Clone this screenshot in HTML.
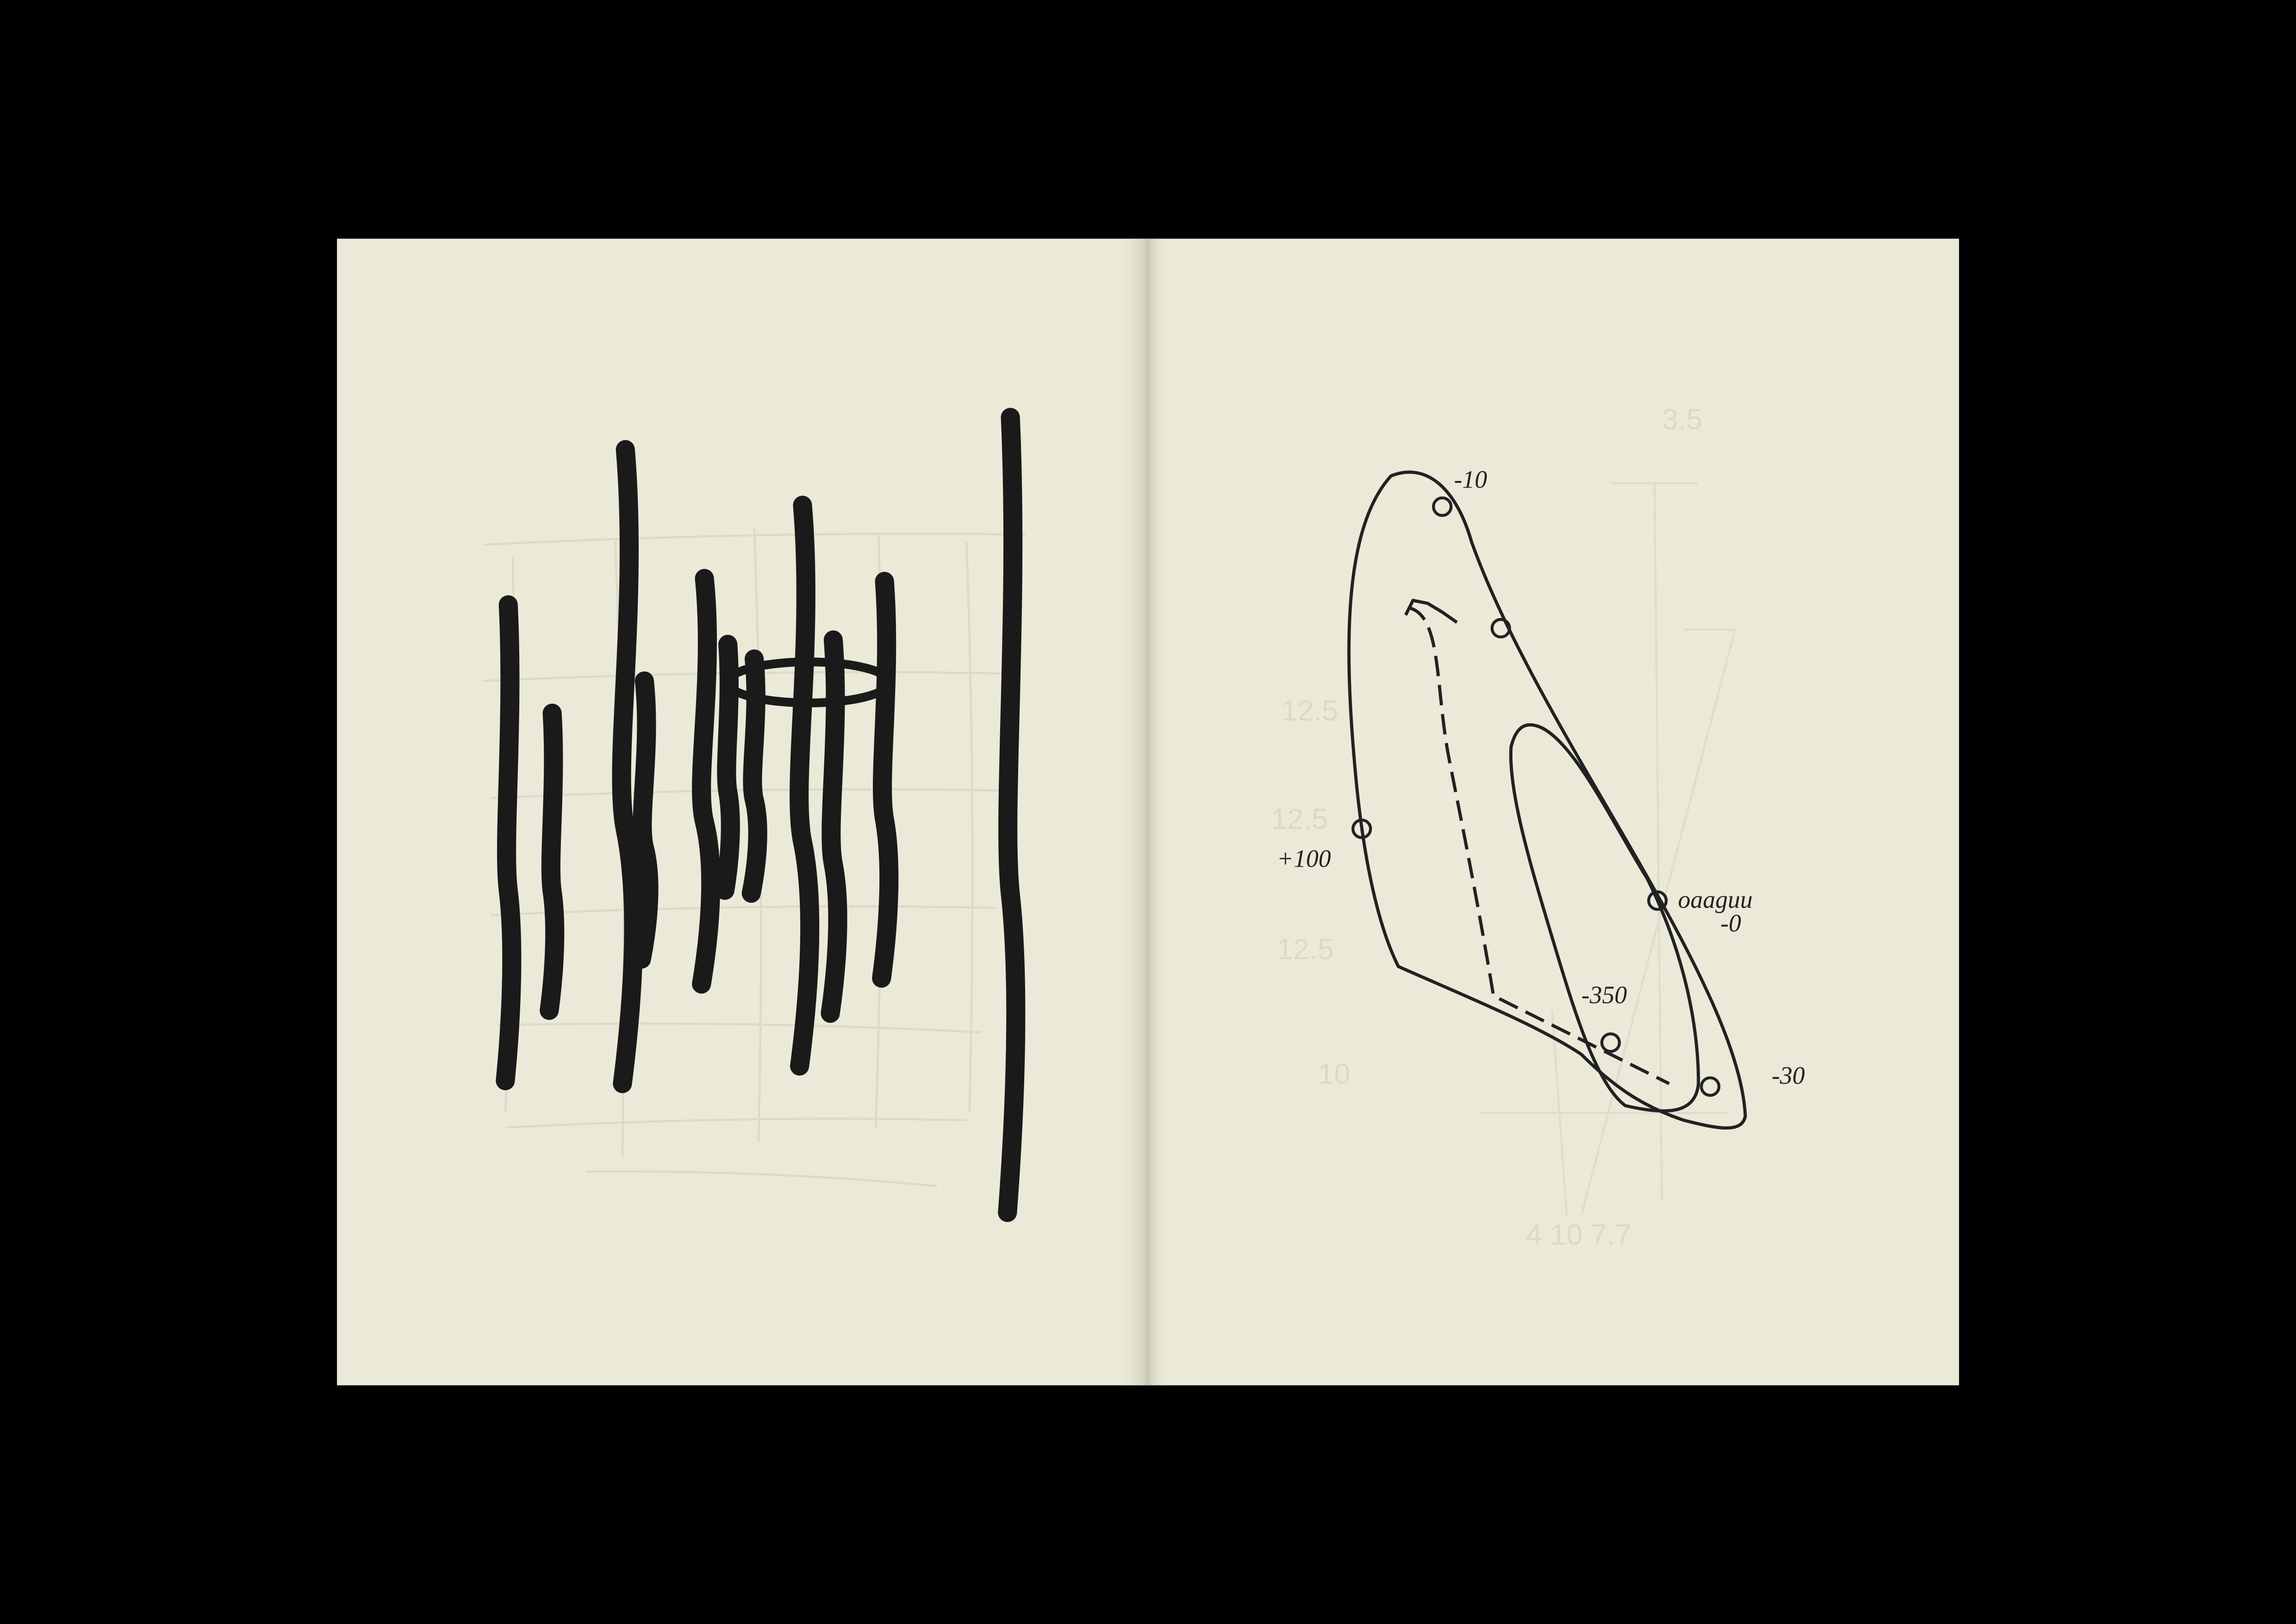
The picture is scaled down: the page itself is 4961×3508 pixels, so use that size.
<!DOCTYPE html>
<html><head><meta charset="utf-8"><style>
html,body{margin:0;padding:0;background:#000;}
svg{display:block}
</style></head><body>
<svg id="s" width="4961" height="3508" viewBox="0 0 1568 1109" xmlns="http://www.w3.org/2000/svg">
<defs>
<linearGradient id="spL" x1="0" x2="1"><stop offset="0" stop-color="#ebead8" stop-opacity="0"/><stop offset="1" stop-color="#cfcebc"/></linearGradient>
<linearGradient id="spR" x1="0" x2="1"><stop offset="0" stop-color="#c4c3b1"/><stop offset="1" stop-color="#ebead8" stop-opacity="0"/></linearGradient>
</defs>
<rect width="1568" height="1109" fill="#000"/>
<rect x="230" y="163" width="553" height="783" fill="#ebead8"/>
<rect x="783" y="163" width="555" height="783" fill="#ebead8"/>
<rect x="763" y="163" width="20" height="783" fill="url(#spL)"/>
<rect x="783" y="163" width="14" height="783" fill="url(#spR)"/>
<g id="faintL" fill="none" stroke="#dcdbc9" stroke-width="1.5"></g>
<g id="strokes" fill="none" stroke="#1a1a1a" stroke-width="13" stroke-linecap="round" stroke-linejoin="round"></g>
<ellipse cx="552" cy="466" rx="55" ry="14" fill="none" stroke="#1a1a1a" stroke-width="6"/>
<g id="faintR" fill="none" stroke="#dfdecc" stroke-width="1.5"></g>
<g font-family="Liberation Sans, sans-serif" font-size="20" fill="#dbdac8">
<text x="1135" y="293">3.5</text>
<text x="875" y="492">12.5</text>
<text x="868" y="566">12.5</text>
<text x="872" y="655">12.5</text>
<text x="900" y="740">10</text>
<text x="1042" y="850">4 10 7.7</text>
</g>
<g fill="none" stroke="#222" stroke-width="2.2" stroke-linejoin="round">
<path d="M950 325 C975 315 995 335 1005 370 C1030 440 1080 520 1120 590 C1160 660 1190 720 1192 762 C1190 775 1170 770 1150 765 C1120 755 1100 740 1080 720 C1050 700 1000 680 955 660 C940 630 930 580 925 520 C918 440 918 360 950 325 Z"/>
<path d="M1045 495 C1070 495 1100 560 1125 600 C1150 650 1160 700 1160 740 C1158 760 1140 762 1110 755 C1090 740 1075 690 1060 640 C1045 590 1030 540 1032 510 C1035 498 1040 495 1045 495 Z"/>
<path stroke-dasharray="14 6" d="M962 415 C985 420 980 470 990 520 C1000 570 1010 620 1020 680 C1060 700 1100 720 1140 740"/>
<path d="M960 420 L965 410 L975 412 L985 418 L995 425"/>
</g>
<g id="circles" fill="none" stroke="#222" stroke-width="2"></g>
<g font-family="Liberation Serif, serif" font-style="italic" font-size="17" fill="#222">
<text x="993" y="333">-10</text>
<text x="872" y="592">+100</text>
<text x="1146" y="620">oaaguu</text>
<text x="1175" y="636">-0</text>
<text x="1080" y="685">-350</text>
<text x="1210" y="740">-30</text>
</g>
</svg>
<script>
const NS="http://www.w3.org/2000/svg";
const strokeX=[347,377,427,440,481,497,515,548,569,604,690];
const strokeTop=[413,487,307,465,395,440,450,345,437,397,285];
const strokeBottom=[738,690,740,655,672,608,610,728,692,668,828];
const strokeWobble=[4,3,9,5,7,3,4,8,5,5,6];
const g=document.getElementById('strokes');
strokeX.forEach((x,i)=>{
  const t=strokeTop[i],b=strokeBottom[i],w=strokeWobble[i],h=b-t;
  const d=`M${x} ${t} C${x+w} ${t+h*0.25} ${x-w} ${t+h*0.5} ${x} ${t+h*0.6} S${x+w*0.7} ${t+h*0.85} ${x-2} ${b}`;
  const p=document.createElementNS(NS,'path');
  p.setAttribute('d',d);
  
  
  g.appendChild(p);
});
const faintLines=[[330,372,700,365],[330,465,690,460],[335,545,690,540],[335,625,680,620],[340,700,670,705],[345,770,660,765],[350,380,345,760],[420,370,425,790],[515,360,518,780],[600,365,598,770],[660,370,662,760],[400,800,640,810]];
const fl=document.getElementById('faintL');
faintLines.forEach(l=>{
  const p=document.createElementNS(NS,'path');
  p.setAttribute('d',`M${l[0]} ${l[1]} Q${(l[0]+l[2])/2+6} ${(l[1]+l[3])/2-6} ${l[2]} ${l[3]}`);
  
  
  fl.appendChild(p);
});
const faintR=[[1130,330,1135,820],[1150,430,1185,430],[1185,430,1080,830],[1060,690,1070,830],[1010,760,1180,760],[1100,330,1160,330]];
const fr=document.getElementById('faintR');
faintR.forEach(l=>{
  const p=document.createElementNS(NS,'line');
  p.setAttribute('x1',l[0]);p.setAttribute('y1',l[1]);p.setAttribute('x2',l[2]);p.setAttribute('y2',l[3]);
  
  
  fr.appendChild(p);
});
const markX=[985,1025,930,1132,1100,1168];
const markY=[346,429,566,615,712,742];
const cg=document.getElementById('circles');
markX.forEach((x,i)=>{
  const c=document.createElementNS(NS,'circle');
  c.setAttribute('cx',x);c.setAttribute('cy',markY[i]);c.setAttribute('r',6);
  
  
  cg.appendChild(c);
});
</script>
</body></html>
